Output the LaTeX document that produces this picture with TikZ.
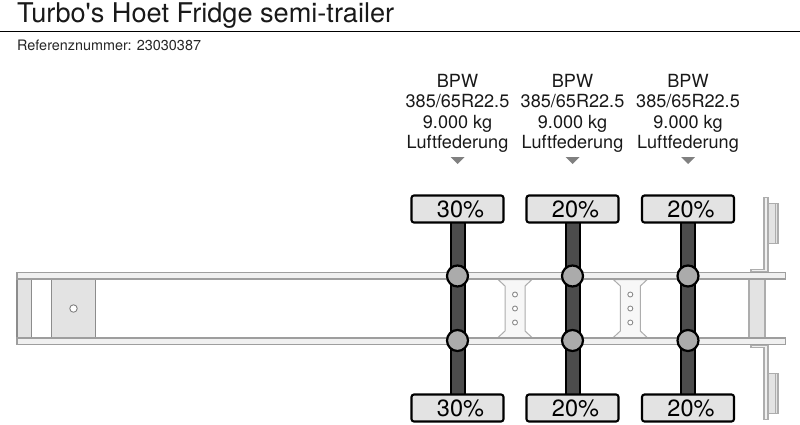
\documentclass[tikz,border=0pt]{standalone}
\usepackage{fontspec}
\setmainfont{TeX Gyre Heros}
\tikzset{
  x=1pt,y=-1pt,
  frame/.style={draw=black!45,line width=1.2pt,fill=black!11},
  rail/.style={draw=black!38,line width=1.2pt,fill=black!6},
  cross/.style={draw=black!32,line width=1pt,fill=black!3},
  hole/.style={draw=black!45,line width=0.9pt,fill=white},
  axlebar/.style={draw=black,line width=2pt,fill=black!70},
  loadbox/.style={draw=black,line width=2.1pt,fill=black!11,rounded corners=2.5pt,minimum width=92pt,minimum height=27pt,inner sep=0pt,font=\fontsize{23.5}{23.5}\selectfont},
  hub/.style={circle,draw=black,line width=2.2pt,fill=black!33,minimum size=21pt,inner sep=0pt},
  spec/.style={align=center,inner sep=0pt,text=black!90,font=\fontsize{18.1}{20.6}\selectfont},
}
\begin{document}
\begin{tikzpicture}
\useasboundingbox (0,0) rectangle (800,424);
\fill[white] (0,0) rectangle (800,424);
% heading
\node[anchor=base west,inner sep=0pt,text=black!90,font=\fontsize{27.15}{28}\selectfont] (title) at (17,22) {Turbo\textquotesingle s Hoet Fridge semi-trailer};
\draw[black,line width=0.9pt] (0,31) -- (800,31);
\node[anchor=base west,inner sep=0pt,text=black!85,font=\fontsize{14.4}{16}\selectfont] (ref) at (17,50.5) {Referenznummer: 23030387};
% front parts
\draw[frame] (17,279) rectangle (31.5,338);
\draw[frame] (51.5,279) rectangle (95.5,338);
\node[circle,hole,minimum size=7.5pt,inner sep=0pt,draw=black!50] (pin) at (73.5,308.5) {};
% cross members
\foreach \cx/\nm in {515/a,630.3/b}{
  \draw[cross] (\cx-17,279.5) -- (\cx+17,279.5) -- (\cx+10,286) -- (\cx+10,331) -- (\cx+17,337.5) -- (\cx-17,337.5) -- (\cx-10,331) -- (\cx-10,286) -- cycle;
  \foreach \cy in {294.5,308.5,322.5}
    \node[circle,hole,minimum size=5pt,inner sep=0pt] at (\cx,\cy) {};
}
% rear parts
\draw[frame,draw=black!32] (749,279) rectangle (765,338);
\foreach \a/\b/\c/\d/\e/\f/\g in {197.5/272/269.5/203.5/243.5/0/0,419.5/345/347.5/413.5/373.5/0/0}{
  \draw[frame,draw=black!32,fill=black!6] (751,\c) -- (764,\c) -- (764,\a) -- (768,\a) -- (768,\b) -- (751,\b) -- cycle;
  \draw[frame,draw=black!32] (768,\d) rectangle (778,\e);
  \draw[draw=black!32,line width=1pt] (775,\d) -- (775,\e);
}
% rails
\draw[rail] (17,272.5) rectangle (785.5,279);
\draw[rail] (17,338) rectangle (785.5,344.5);
% axles
\foreach \n/\x/\p in {1/457.5/30,2/572.5/20,3/688/20}{
  \node[spec] (spec\n) at (\x,113.3) {BPW\\385/65R22.5\\9.000 kg\\Luftfederung};
  \fill[black!50] (\x-7,157) -- (\x+7,157) -- (\x,164) -- cycle;
  \draw[axlebar] (\x-7,222) rectangle (\x+7,395);
  \node[loadbox,text depth=0pt] (top\n) at (\x,209) {\hspace{6pt}\raisebox{-0.5pt}{\p\%}};
  \node[loadbox,text depth=0pt] (bot\n) at (\x,408) {\hspace{6pt}\raisebox{-0.5pt}{\p\%}};
  \node[hub] (hubt\n) at (\x,276) {};
  \node[hub] (hubb\n) at (\x,340.5) {};
}
\end{tikzpicture}
\end{document}
